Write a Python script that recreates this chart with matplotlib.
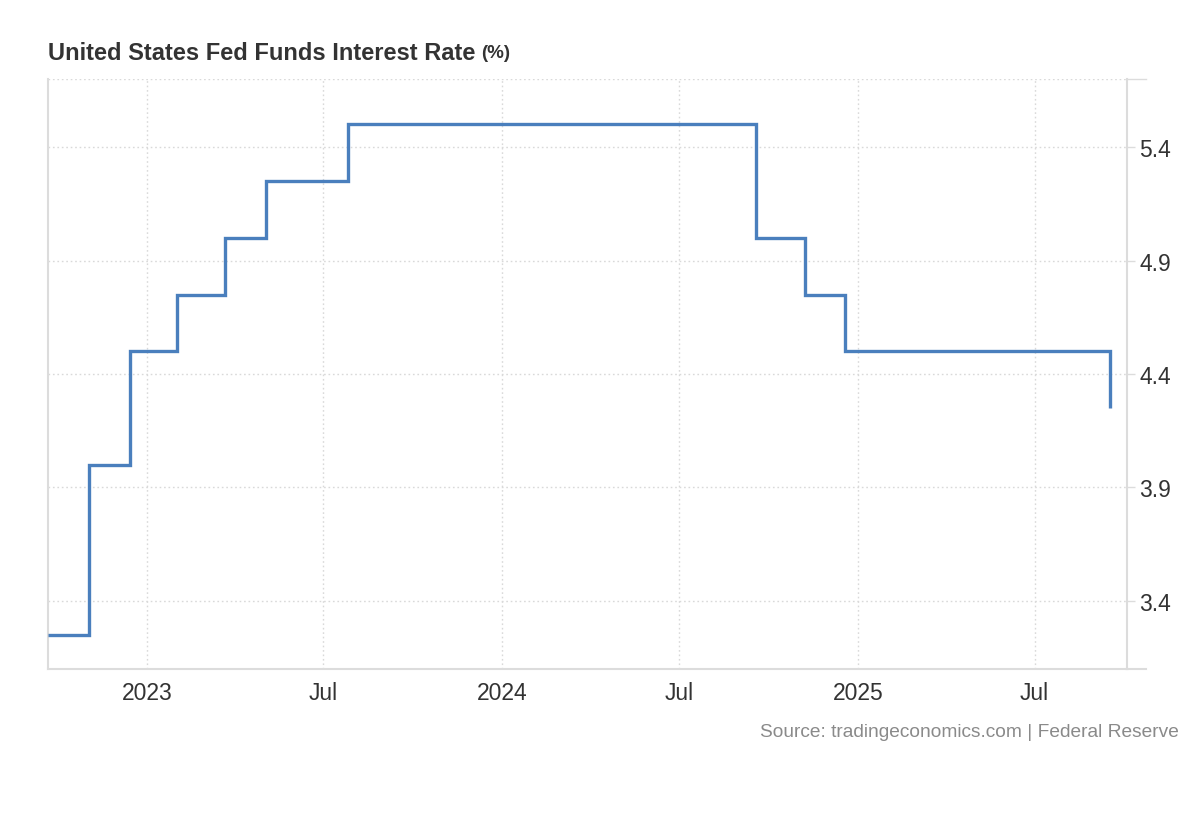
import matplotlib
matplotlib.use("Agg")
import matplotlib.pyplot as plt
from matplotlib.lines import Line2D
import datetime as dt

plt.rcParams['font.family'] = ['Liberation Sans', 'DejaVu Sans']

# Data
dates = ["2022-09-21", "2022-11-02", "2022-12-14", "2023-02-01", "2023-03-22",
         "2023-05-03", "2023-07-26", "2024-09-18", "2024-11-07", "2024-12-18",
         "2025-09-17"]
rates = [3.25, 4.00, 4.50, 4.75, 5.00, 5.25, 5.50, 5.00, 4.75, 4.50, 4.25]
y_ticks = [3.4, 3.9, 4.4, 4.9, 5.4]
x_tick_dates = ["2023-01-01", "2023-07-01", "2024-01-01", "2024-07-01",
                "2025-01-01", "2025-07-01"]
x_tick_labels = ["2023", "Jul", "2024", "Jul", "2025", "Jul"]
title = "United States Fed Funds Interest Rate"
unit = "(%)"
source = "Source: tradingeconomics.com | Federal Reserve"

x = [dt.datetime.strptime(d, "%Y-%m-%d") for d in dates]
xt = [dt.datetime.strptime(d, "%Y-%m-%d") for d in x_tick_dates]

W, H = 1200, 820
fig = plt.figure(figsize=(W / 100, H / 100), dpi=100)
L, R, T, B = 48, 1127, 80, 670
ax = fig.add_axes([L / W, 1 - B / H, (R - L) / W, (B - T) / H])

ax.step(x, rates, where='post', color='#4a7fbd', lw=2.4, solid_joinstyle='miter',
        solid_capstyle='butt', zorder=3)

ax.set_xlim(dt.datetime(2022, 9, 21), dt.datetime(2025, 10, 4))
ax.set_ylim(3.1, 5.7)

ax.set_xticks(xt)
ax.set_xticklabels(x_tick_labels)
ax.set_yticks(y_ticks)
ax.set_yticklabels([f"{v:.1f}" for v in y_ticks])
ax.yaxis.tick_right()

grid_kw = dict(color='#d9d9d9', lw=1, ls=(0, (1.2, 2.0)))
ax.grid(True, axis='both', **grid_kw)
ax.axhline(5.7, **grid_kw)

ax.spines['top'].set_visible(False)
for s in ['left', 'right', 'bottom']:
    ax.spines[s].set_color('#dcdcdc')
    ax.spines[s].set_linewidth(1.5)

ax.tick_params(axis='x', length=0, pad=9, labelsize=16.5, labelcolor='#333333')
ax.tick_params(axis='y', length=6, width=1, color='#dcdcdc', pad=3,
               labelsize=16.5, labelcolor='#333333')

# bottom axis line extends past the right spine
fig.add_artist(Line2D([R / W, 1146 / W], [1 - B / H, 1 - B / H],
                      color='#dcdcdc', lw=1.5))
# top tick
fig.add_artist(Line2D([R / W, 1146 / W], [1 - T / H, 1 - T / H],
                      color='#dcdcdc', lw=1))

t = fig.text(48 / W, 1 - 53 / H, title, fontsize=17, fontweight='bold',
             color='#333333', va='center', ha='left')
fig.canvas.draw()
bb = t.get_window_extent()
fig.text((bb.x1 + 6) / W, 1 - 54 / H, unit, fontsize=13.5, fontweight='bold',
         color='#333333', va='center', ha='left')

fig.text(1179 / W, 1 - 733 / H, source, fontsize=13.8, color='#8a8a8a',
         ha='right', va='center')

fig.savefig("out.png", dpi=100, facecolor='white')
